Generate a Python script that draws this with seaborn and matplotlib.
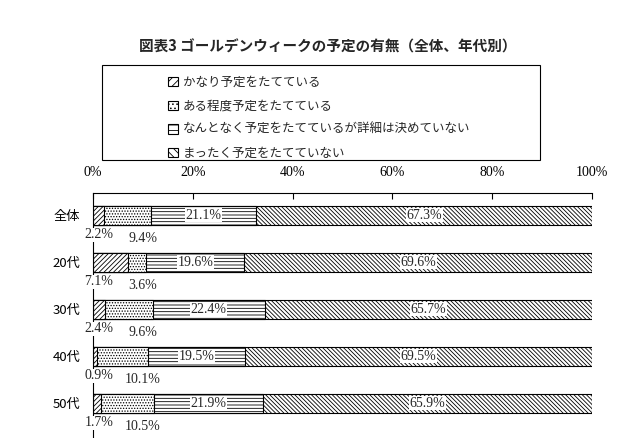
import numpy as np
import pandas as pd
import seaborn as sns
import matplotlib.pyplot as plt
from matplotlib.patches import Patch, Rectangle

groups = ['全体', '20代', '30代', '40代', '50代']
quite = [2.2, 7.1, 2.4, 0.9, 1.7]
somewhat = [9.4, 3.6, 9.6, 10.1, 10.5]
vaguely = [21.1, 19.6, 22.4, 19.5, 21.9]
none_at_all = [67.3, 69.6, 65.7, 69.5, 65.9]

series_names = ['かなり予定をたてている', 'ある程度予定をたてている',
                'なんとなく予定をたてているが詳細は決めていない', 'まったく予定をたてていない']
hatches = ['/' * 7, '.' * 6, '-' * 5, '\\' * 8]
legend_hatches = ['////', '....', '---', '\\\\\\\\']
xticks = [0, 20, 40, 60, 80, 100]

sns.set_theme(style='white')
plt.rcParams['font.family'] = ['Noto Sans CJK JP', 'DejaVu Sans']
plt.rcParams['hatch.linewidth'] = 0.6
serif = 'Liberation Serif'

vals = np.array([quite, somewhat, vaguely, none_at_all])
starts = np.vstack([np.zeros(len(groups)), np.cumsum(vals, axis=0)[:-1]])
ends = np.cumsum(vals, axis=0)
ends[-1] = 100.0

fig = plt.figure(figsize=(6.4, 4.38), dpi=100)
ax = fig.add_axes([93 / 640, 0.0, (592 - 93) / 640, 1 - 193 / 438])

# stacked bars: draw the cumulative ends from the last segment back to the first
for k in range(3, -1, -1):
    df = pd.DataFrame({'group': groups, 'end': ends[k]})
    sns.barplot(data=df, x='end', y='group', orient='h', color='white',
                edgecolor='black', linewidth=0.8, hatch=hatches[k],
                width=0.4, saturation=1, ax=ax)

ax.set_xlim(0, 100)
ax.set_ylim(4.74, -0.47)
ax.set_xlabel('')
ax.set_ylabel('')
ax.xaxis.tick_top()
ax.set_xticks(xticks)
ax.set_xticklabels([f'{t}%' for t in xticks], fontfamily=serif, fontsize=10)
ax.tick_params(axis='x', direction='in', length=4, width=0.8, pad=10, colors='black')
ax.tick_params(axis='y', length=0, pad=9, labelsize=9.5, colors='black')
for s in ['right', 'bottom']:
    ax.spines[s].set_visible(False)
for s in ['top', 'left']:
    ax.spines[s].set_color('black')
    ax.spines[s].set_linewidth(0.8)

box = dict(facecolor='white', edgecolor='none', pad=0.5)
for i in range(len(groups)):
    ax.text(1.2, i + 0.42, f'{quite[i]}%', ha='center', va='center',
            fontfamily=serif, fontsize=10, bbox=box)
    ax.text(10, i + 0.5, f'{somewhat[i]}%', ha='center', va='center',
            fontfamily=serif, fontsize=10)
    for k in (2, 3):
        mid = (starts[k][i] + ends[k][i]) / 2
        ax.text(mid, i, f'{vals[k][i]}%', ha='center', va='center',
                fontfamily=serif, fontsize=10, bbox=box)

# legend in a separate frame
fig.patches.append(Rectangle((102 / 640, 1 - 160 / 438), (540 - 102) / 640, 95 / 438,
                             transform=fig.transFigure, facecolor='none',
                             edgecolor='black', linewidth=0.8))
handles = [Patch(facecolor='white', edgecolor='black', hatch=h, linewidth=0.8)
           for h in legend_hatches]
fig.legend(handles, series_names, loc='upper left', bbox_to_anchor=(168 / 640, 1 - 76 / 438),
           frameon=False, fontsize=9, handlelength=0.8, handleheight=0.8,
           handletextpad=0.4, labelspacing=0.85, borderpad=0, borderaxespad=0)

fig.text(328 / 640, 1 - 47 / 438, '図表3 ゴールデンウィークの予定の有無（全体、年代別）',
         ha='center', va='center', fontsize=10.5, fontweight='bold')

fig.savefig('out.png', dpi=100)
